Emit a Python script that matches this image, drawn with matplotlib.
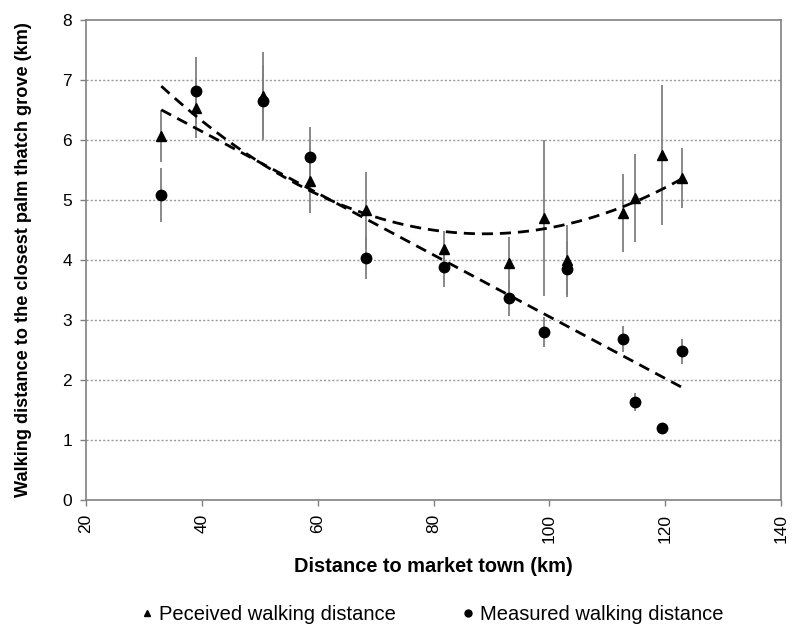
import numpy as np
import matplotlib
matplotlib.use("Agg")
import matplotlib.pyplot as plt
from matplotlib.lines import Line2D

plt.rcParams['font.family'] = ['Liberation Sans', 'DejaVu Sans']

# Data
distance_km = [33, 39, 50.6, 58.7, 68.4, 81.8, 93, 99, 103, 112.7, 114.8, 119.5, 122.9]
perceived = [6.07, 6.53, 6.73, 5.32, 4.83, 4.18, 3.95, 4.70, 4.00, 4.78, 5.03, 5.75, 5.37]
perceived_err = [0.43, 0.50, 0.73, 0.54, 0.64, 0.30, 0.43, 1.30, 0.58, 0.65, 0.73, 1.17, 0.50]
measured = [5.08, 6.82, 6.65, 5.72, 4.03, 3.88, 3.37, 2.80, 3.85, 2.68, 1.64, 1.20, 2.48]
measured_err = [0.45, 0.56, 0.60, 0.50, 0.35, 0.33, 0.30, 0.25, 0.47, 0.22, 0.15, 0.07, 0.21]

x_ticks = [20, 40, 60, 80, 100, 120, 140]
y_ticks = [0, 1, 2, 3, 4, 5, 6, 7, 8]
label_perceived = "Peceived walking distance"
label_measured = "Measured walking distance"

x = np.array(distance_km)
yp = np.array(perceived)
ym = np.array(measured)

fig = plt.figure(figsize=(8, 6.37), dpi=100)
ax = fig.add_axes([0.1075, 0.215, 0.8688, 0.7536])

grey = '#808080'
ax.errorbar(x, yp, yerr=perceived_err, fmt='none', ecolor=grey, elinewidth=1.3, capsize=0, zorder=2)
ax.errorbar(x, ym, yerr=measured_err, fmt='none', ecolor=grey, elinewidth=1.3, capsize=0, zorder=2)

# Trend lines (polynomial fit for perceived, linear fit for measured)
xs = np.linspace(x.min(), x.max(), 200)
cq = np.polyfit(x, yp, 2)
cl = np.polyfit(x, ym, 1)
ax.plot(xs, np.polyval(cq, xs), color='black', lw=2, ls=(0, (4, 2.5)), zorder=3)
ax.plot(xs, np.polyval(cl, xs), color='black', lw=2, ls=(0, (4, 2.5)), zorder=3)

ax.plot(x, yp, ls='none', marker='^', ms=7.5, color='black', zorder=4, label=label_perceived)
ax.plot(x, ym, ls='none', marker='o', ms=7.5, color='black', zorder=4, label=label_measured)

ax.set_xlim(20, 140)
ax.set_ylim(0, 8)
ax.set_xticks(x_ticks)
ax.set_yticks(y_ticks)
ax.set_xticklabels([str(t) for t in x_ticks], rotation=90, fontsize=12.5)
ax.set_yticklabels([str(t) for t in y_ticks], fontsize=12.5)
ax.tick_params(axis='both', direction='out', length=4, color=grey, width=1, pad=6)

for yv in y_ticks[1:-1]:
    ax.axhline(yv, color='#999999', lw=1, ls=(0, (1.5, 1.5)), zorder=1)

for s in ax.spines.values():
    s.set_color(grey)
    s.set_linewidth(1.2)

ax.set_xlabel("Distance to market town (km)", fontsize=14.4, fontweight='bold', labelpad=10)
ax.set_ylabel("Walking distance to the closest palm thatch grove (km)", fontsize=13.1,
              fontweight='bold', labelpad=22)

l = [label_perceived, label_measured]
hl = [Line2D([], [], ls='none', marker='^', ms=5, color='black'),
      Line2D([], [], ls='none', marker='o', ms=5, color='black')]
fig.legend(hl, l, loc='center', bbox_to_anchor=(0.54, 0.035), ncol=2, frameon=False,
           fontsize=14.5, handlelength=0.6, handletextpad=0.3, columnspacing=3.3)

fig.savefig("out.png", dpi=100)
